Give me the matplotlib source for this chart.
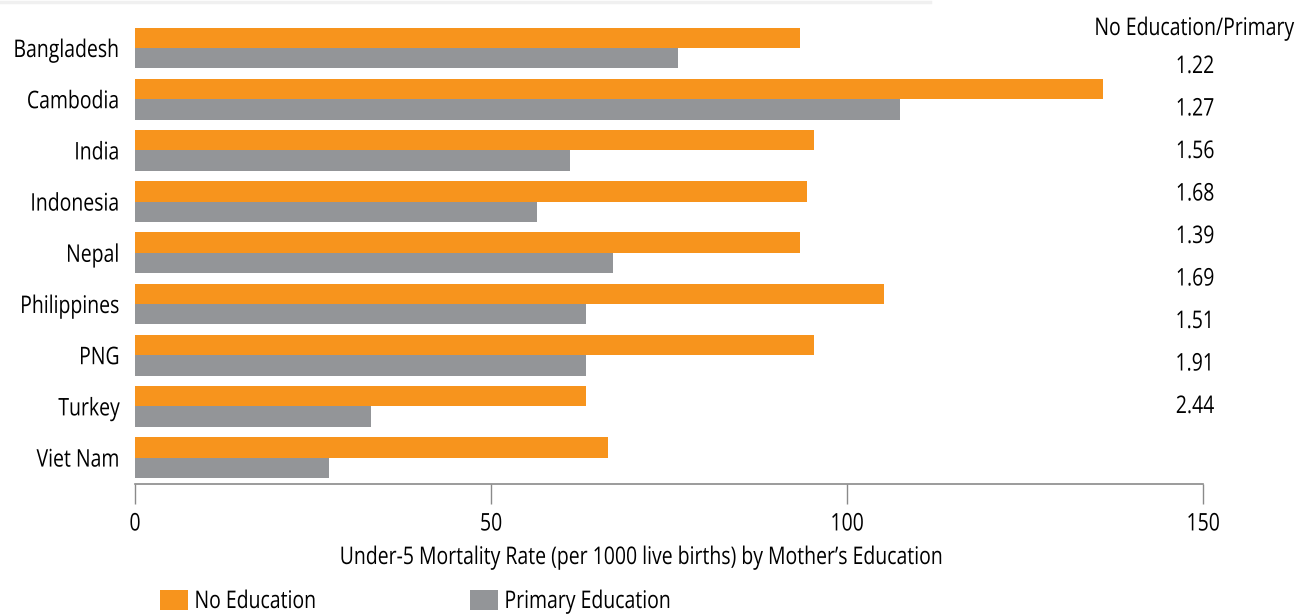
"""
Under-5 mortality by mother's education, horizontal grouped bars.
"""
import matplotlib
matplotlib.use("Agg")
import matplotlib.pyplot as plt
from matplotlib.lines import Line2D
from matplotlib.patches import Rectangle
from matplotlib.patheffects import AbstractPathEffect
from matplotlib.transforms import Affine2D
import numpy as np

plt.rcParams['font.family'] = ['Open Sans', 'DejaVu Sans']

countries = ['Bangladesh', 'Cambodia', 'India', 'Indonesia', 'Nepal',
             'Philippines', 'PNG', 'Turkey', 'Viet Nam']
no_education = [93.4, 136.0, 95.4, 94.4, 93.4, 105.2, 95.4, 63.4, 66.4]
primary = [76.2, 107.4, 61.1, 56.4, 67.2, 63.4, 63.4, 33.2, 27.3]
ratio_header = 'No Education/Primary'
ratios = ['1.22', '1.27', '1.56', '1.68', '1.39', '1.69', '1.51', '1.91', '2.44']
xticks = [0, 50, 100, 150]

ORANGE = '#F7941D'
GRAY = '#939598'
AXIS = '#8a8a8a'
FS = 17.5
SQUEEZE = 0.80


class Condense(AbstractPathEffect):
    """Squeeze text horizontally (no condensed font installed)."""

    def __init__(self, sx, align):
        super().__init__()
        self.sx = sx
        self.align = align

    def draw_path(self, renderer, gc, tpath, affine, rgbFace=None):
        ext = tpath.get_extents()
        pivot = {'left': ext.x0, 'center': (ext.x0 + ext.x1) / 2, 'right': ext.x1}[self.align]
        t = Affine2D().translate(-pivot, 0).scale(self.sx, 1).translate(pivot, 0) + affine
        renderer.draw_path(gc, tpath, t, rgbFace)


def narrow(txt, align):
    txt.set_path_effects([Condense(SQUEEZE, align)])
    return txt


W, H = 1295, 614
fig = plt.figure(figsize=(W / 100, H / 100), dpi=100)

# axes box in pixels: x 135..1203, y 20..484 (from top)
ax = fig.add_axes([135 / W, 1 - 484 / H, (1203 - 135) / W, (484 - 20) / H])

y = np.arange(len(countries))
h = 0.4
ax.barh(y - h / 2, no_education, height=h, color=ORANGE, label='No Education')
ax.barh(y + h / 2, primary, height=h, color=GRAY, label='Primary Education')

ax.set_xlim(0, 150)
ax.set_ylim(8.516, -0.547)
ax.set_xticks(xticks)
ax.set_xticklabels([str(t) for t in xticks], fontsize=FS)
ax.set_yticks(y)
ax.set_yticklabels(countries, fontsize=FS)
ax.tick_params(axis='y', length=0, pad=11)
ax.tick_params(axis='x', length=14.5, width=1, color=AXIS, pad=6)
for s in ['top', 'right', 'left']:
    ax.spines[s].set_visible(False)
ax.spines['bottom'].set_color(AXIS)
ax.spines['bottom'].set_linewidth(1.2)
for lab in ax.get_yticklabels():
    narrow(lab, 'right')
for lab in ax.get_xticklabels():
    narrow(lab, 'center')

narrow(fig.text(641 / W, 1 - 558 / H,
                "Under-5 Mortality Rate (per 1000 live births) by Mother\u2019s Education",
                ha='center', va='center', fontsize=FS), 'center')

# ratio column on the right
narrow(fig.text(1194 / W, 1 - 29 / H, ratio_header, ha='center', va='center', fontsize=FS), 'center')
for i, r in enumerate(ratios):
    narrow(fig.text(1195 / W, 1 - (67 + 42.5 * i) / H, r, ha='center', va='center', fontsize=FS),
           'center')

# legend along the bottom edge
for (px, label, col) in [(160, 'No Education', ORANGE), (470, 'Primary Education', GRAY)]:
    fig.add_artist(Rectangle((px / W, 1 - 610 / H), 28 / W, 20 / H,
                             transform=fig.transFigure, color=col, lw=0))
    narrow(fig.text((px + 34) / W, 1 - 602 / H, label, ha='left', va='center', fontsize=FS), 'left')

# faint page edge at the top
fig.add_artist(Line2D([0, 930 / W], [1 - 1.5 / H, 1 - 1.5 / H], transform=fig.transFigure,
                      color='#f0f0f0', lw=2.5))

fig.savefig('out.png', dpi=100)
